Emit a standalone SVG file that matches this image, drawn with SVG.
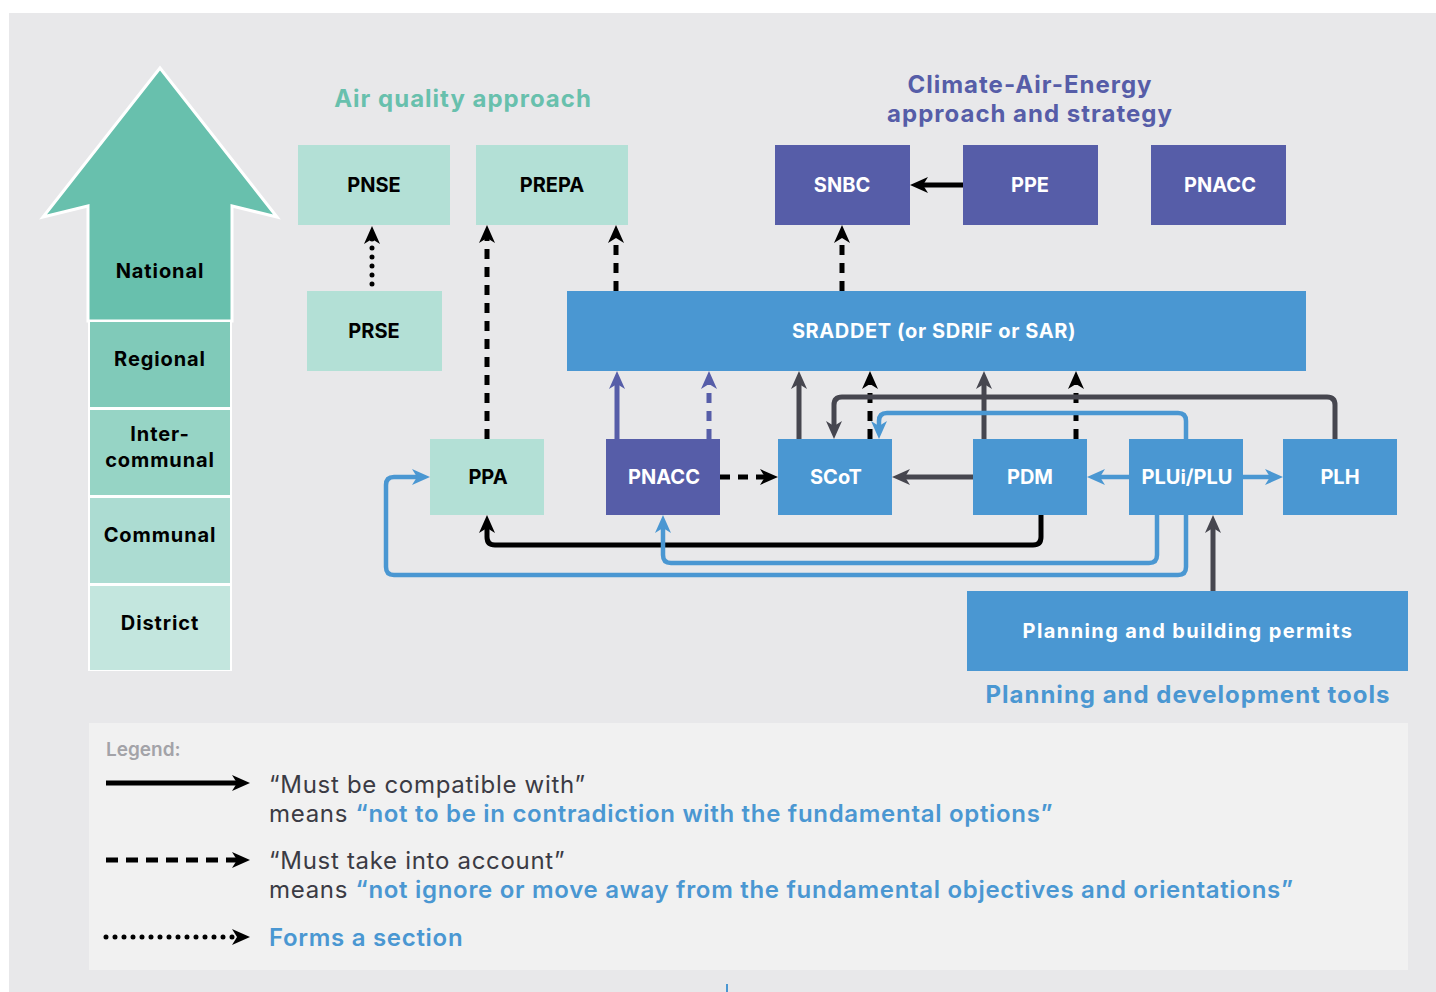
<svg xmlns="http://www.w3.org/2000/svg" width="1436" height="992" viewBox="0 0 1436 992">
<style>
text{font-family:Inter,"Liberation Sans",sans-serif;}
.lvl{font-size:20px;font-weight:700;fill:#000;text-anchor:middle;letter-spacing:0.9px}
.nd{font-size:20px;font-weight:700;text-anchor:middle}
.dk{fill:#000}
.wh{fill:#fff}
.aq{fill:#b3e0d6}
.pu{fill:#565da8}
.bl{fill:#4a97d2}
.ttl{font-size:24px;font-weight:700;text-anchor:middle;letter-spacing:1px}
.c{fill:none;stroke-width:5}
.k{stroke:#000}
.g{stroke:#46464f}
.b{stroke:#4a97d2;stroke-width:4.5}
.p{stroke:#565da8}
.d{stroke-dasharray:10 8}
.dot{stroke-dasharray:0 9;stroke-linecap:round}
.lg{font-size:24px;fill:#3b3b44;letter-spacing:0.7px}
.lgb{fill:#4a97d2;font-weight:600}
</style>
<defs>
<marker id="ak" markerUnits="userSpaceOnUse" markerWidth="18" markerHeight="16" refX="6" refY="8" orient="auto" overflow="visible"><path d="M0,0 L18,8 L0,16 L5,8 z" fill="#000"/></marker>
<marker id="ag" markerUnits="userSpaceOnUse" markerWidth="18" markerHeight="16" refX="6" refY="8" orient="auto" overflow="visible"><path d="M0,0 L18,8 L0,16 L5,8 z" fill="#46464f"/></marker>
<marker id="ab" markerUnits="userSpaceOnUse" markerWidth="18" markerHeight="16" refX="6" refY="8" orient="auto" overflow="visible"><path d="M0,0 L18,8 L0,16 L5,8 z" fill="#4a97d2"/></marker>
<marker id="ap" markerUnits="userSpaceOnUse" markerWidth="18" markerHeight="16" refX="6" refY="8" orient="auto" overflow="visible"><path d="M0,0 L18,8 L0,16 L5,8 z" fill="#565da8"/></marker>
</defs>
<rect width="1436" height="992" fill="#fff"/>
<rect x="9" y="13" width="1427" height="979" fill="#e8e8ea"/>
<rect x="726" y="984" width="2" height="8" fill="#4a97d2"/>

<g id="levels">
<path d="M160,68 L277,217 L232,206 L232,321 L88,321 L88,206 L43,217 Z" fill="#68c0ad" stroke="#fff" stroke-width="3" stroke-linejoin="miter"/>
<rect x="88" y="321" width="144" height="350" fill="#fff"/>
<rect x="90" y="322" width="140" height="85" fill="#80cab9"/>
<rect x="90" y="410" width="140" height="85" fill="#96d4c5"/>
<rect x="90" y="498" width="140" height="85" fill="#acdcd2"/>
<rect x="90" y="586" width="140" height="84" fill="#c3e6de"/>
<text class="lvl" x="160" y="278">National</text>
<text class="lvl" x="160" y="366">Regional</text>
<text class="lvl" x="160" y="441">Inter-</text>
<text class="lvl" x="160" y="467">communal</text>
<text class="lvl" x="160" y="542">Communal</text>
<text class="lvl" x="160" y="630">District</text>
</g>

<g id="titles">
<text class="ttl" x="463" y="107" fill="#68c0ad">Air quality approach</text>
<text class="ttl" x="1030" y="93" fill="#565da8">Climate-Air-Energy</text>
<text class="ttl" x="1030" y="122" fill="#565da8">approach and strategy</text>
<text class="ttl" x="1188" y="703" fill="#4a97d2">Planning and development tools</text>
</g>

<g id="connectors">
<path class="c dot k" d="M372,284 V238" marker-end="url(#ak)"/>
<path class="c d k" d="M487,439 V237" marker-end="url(#ak)"/>
<path class="c d k" d="M616,291 V237" marker-end="url(#ak)"/>
<path class="c d k" d="M842,291 V237" marker-end="url(#ak)"/>
<path class="c k" d="M963,185 H922" marker-end="url(#ak)"/>
<path class="c p" d="M617,439 V383" marker-end="url(#ap)"/>
<path class="c d p" d="M709,439 V383" marker-end="url(#ap)"/>
<path class="c d k" d="M720,477 H766" marker-end="url(#ak)"/>
<path class="c g" d="M799,439 V383" marker-end="url(#ag)"/>
<path class="c d k" d="M870,439 V383" marker-end="url(#ak)"/>
<path class="c g" d="M984,439 V383" marker-end="url(#ag)"/>
<path class="c d k" d="M1076,439 V383" marker-end="url(#ak)"/>
<path class="c g" d="M1335,439 V405 Q1335,397 1327,397 H842 Q834,397 834,405 V427" marker-end="url(#ag)"/>
<path class="c b" d="M1186,439 V421 Q1186,413 1178,413 H887 Q879,413 879,421 V427" marker-end="url(#ab)"/>
<path class="c g" d="M973,477 H904" marker-end="url(#ag)"/>
<path class="c b" d="M1129,477 H1099" marker-end="url(#ab)"/>
<path class="c b" d="M1243,477 H1271" marker-end="url(#ab)"/>
<path class="c k" d="M1041,515 V537 Q1041,545 1033,545 H495 Q487,545 487,537 V527" marker-end="url(#ak)"/>
<path class="c b" d="M1157,515 V555 Q1157,563 1149,563 H671 Q663,563 663,555 V527" marker-end="url(#ab)"/>
<path class="c b" d="M1186,515 V567 Q1186,575 1178,575 H394 Q386,575 386,567 V485 Q386,477 394,477 H418" marker-end="url(#ab)"/>
<path class="c g" d="M1213,591 V527" marker-end="url(#ag)"/>
</g>

<g id="PNSE"><rect class="aq" x="298" y="145" width="152" height="80"/><text class="nd dk" x="374" y="192">PNSE</text></g>
<g id="PREPA"><rect class="aq" x="476" y="145" width="152" height="80"/><text class="nd dk" x="552" y="192">PREPA</text></g>
<g id="PRSE"><rect class="aq" x="307" y="291" width="135" height="80"/><text class="nd dk" x="374" y="338">PRSE</text></g>
<g id="SNBC"><rect class="pu" x="775" y="145" width="135" height="80"/><text class="nd wh" x="842" y="192">SNBC</text></g>
<g id="PPE"><rect class="pu" x="963" y="145" width="135" height="80"/><text class="nd wh" x="1030" y="192">PPE</text></g>
<g id="PNACC-national"><rect class="pu" x="1151" y="145" width="135" height="80"/><text class="nd wh" x="1220" y="192">PNACC</text></g>
<g id="SRADDET"><rect class="bl" x="567" y="291" width="739" height="80"/><text class="nd wh" x="934" y="338" letter-spacing="0.6">SRADDET (or SDRIF or SAR)</text></g>
<g id="PPA"><rect class="aq" x="430" y="439" width="114" height="76"/><text class="nd dk" x="488" y="484">PPA</text></g>
<g id="PNACC-local"><rect class="pu" x="606" y="439" width="114" height="76"/><text class="nd wh" x="664" y="484">PNACC</text></g>
<g id="SCoT"><rect class="bl" x="778" y="439" width="114" height="76"/><text class="nd wh" x="836" y="484">SCoT</text></g>
<g id="PDM"><rect class="bl" x="973" y="439" width="114" height="76"/><text class="nd wh" x="1030" y="484">PDM</text></g>
<g id="PLUi"><rect class="bl" x="1129" y="439" width="114" height="76"/><text class="nd wh" x="1187" y="484">PLUi/PLU</text></g>
<g id="PLH"><rect class="bl" x="1283" y="439" width="114" height="76"/><text class="nd wh" x="1340" y="484">PLH</text></g>
<g id="permits"><rect class="bl" x="967" y="591" width="441" height="80"/><text class="nd wh" x="1188" y="638" letter-spacing="1.4">Planning and building permits</text></g>

<g id="legend">
<rect x="89" y="723" width="1319" height="247" fill="#f1f1f1"/>
<text x="106" y="756" font-size="19" font-weight="600" fill="#a3a3a8">Legend:</text>
<path class="c k" d="M106,783 H238" marker-end="url(#ak)"/>
<path class="c k" d="M106,860 H238" stroke-dasharray="12 8" marker-end="url(#ak)"/>
<path class="c k dot" d="M106,937 H238" stroke-dasharray="0 8.5" marker-end="url(#ak)"/>
<text class="lg" x="269" y="793">“Must be compatible with”</text>
<text class="lg" x="269" y="822">means <tspan class="lgb">“not to be in contradiction with the fundamental options”</tspan></text>
<text class="lg" x="269" y="869">“Must take into account”</text>
<text class="lg" x="269" y="898">means <tspan class="lgb">“not ignore or move away from the fundamental objectives and orientations”</tspan></text>
<text class="lg lgb" x="269" y="946">Forms a section</text>
</g>
</svg>
